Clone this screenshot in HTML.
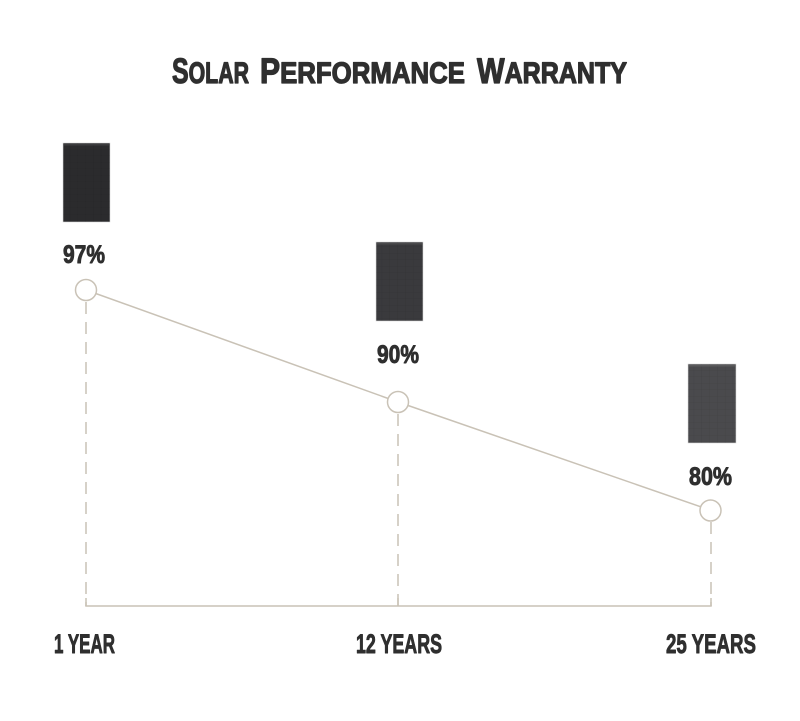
<!DOCTYPE html>
<html>
<head>
<meta charset="utf-8">
<style>
  html,body{margin:0;padding:0;background:#fff;}
  svg{display:block;}
  text{font-family:"Liberation Sans Narrow","Liberation Sans",sans-serif;font-weight:bold;fill:#2f2f2f;stroke:#2f2f2f;stroke-width:0.9;stroke-linejoin:round;}
</style>
</head>
<body>
<svg width="800" height="721" viewBox="0 0 800 721" xmlns="http://www.w3.org/2000/svg">
  <rect width="800" height="721" fill="#fff"/>

  <!-- Title -->
  <text x="172" y="83" textLength="77" lengthAdjust="spacingAndGlyphs" style="stroke-width:1.3"><tspan font-size="35">S</tspan><tspan font-size="30">OLAR</tspan></text>
  <text x="260" y="83" textLength="205" lengthAdjust="spacingAndGlyphs" style="stroke-width:1.3"><tspan font-size="35">P</tspan><tspan font-size="30">ERFORMANCE</tspan></text>
  <text x="477" y="83" textLength="150" lengthAdjust="spacingAndGlyphs" style="stroke-width:1.3"><tspan font-size="35">W</tspan><tspan font-size="30">ARRANTY</tspan></text>

  <defs>
    <pattern id="grid" width="7.8" height="6.5" patternUnits="userSpaceOnUse">
      <path d="M7.8 0 V6.5 M0 6.5 H7.8" stroke="#000" stroke-opacity="0.12" stroke-width="0.6" fill="none"/>
    </pattern>
  </defs>

  <!-- Panels -->
  <g>
    <rect x="63" y="143" width="47" height="79" fill="#2b2b2d" stroke="#d8d8d8" stroke-width="0.6"/>
    <rect x="63" y="143" width="47" height="79" fill="url(#grid)"/>
    <rect x="64" y="144" width="45" height="1.5" fill="#3c3c3e"/>
  </g>
  <g>
    <rect x="376" y="242" width="47" height="79" fill="#3a3a3d" stroke="#d8d8d8" stroke-width="0.6"/>
    <rect x="376" y="242" width="47" height="79" fill="url(#grid)"/>
    <rect x="377" y="243" width="45" height="1.5" fill="#4a4a4c"/>
  </g>
  <g>
    <rect x="688" y="364" width="48" height="79" fill="#4a4a4d" stroke="#d8d8d8" stroke-width="0.6"/>
    <rect x="688" y="364" width="48" height="79" fill="url(#grid)"/>
    <rect x="689" y="365" width="46" height="1.5" fill="#5a5a5c"/>
  </g>

  <!-- Percent labels -->
  <text x="63" y="263" font-size="25" textLength="42" lengthAdjust="spacingAndGlyphs">97%</text>
  <text x="377" y="363" font-size="25" textLength="42" lengthAdjust="spacingAndGlyphs">90%</text>
  <text x="689" y="485" font-size="25" textLength="43" lengthAdjust="spacingAndGlyphs">80%</text>

  <!-- Dashed verticals -->
  <g stroke="#c9c2b6" stroke-width="1.5" stroke-dasharray="12 8">
    <line x1="86" y1="302" x2="86" y2="606"/>
    <line x1="398" y1="414" x2="398" y2="606"/>
    <line x1="711" y1="522" x2="711" y2="606"/>
  </g>
  <!-- Axis -->
  <g stroke="#c9c2b6" stroke-width="1.5" fill="none">
    <line x1="85.25" y1="606" x2="711.75" y2="606"/>
    <line x1="86" y1="598" x2="86" y2="606"/>
    <line x1="398" y1="598" x2="398" y2="606"/>
    <line x1="711" y1="598" x2="711" y2="606"/>
  </g>

  <!-- Trend line -->
  <polyline points="86,290 398,402 710,510" fill="none" stroke="#c9c2b6" stroke-width="1.5"/>
  <g fill="#fff" stroke="#c9c2b6" stroke-width="1.5">
    <circle cx="86" cy="290" r="10.5"/>
    <circle cx="398" cy="402" r="10.5"/>
    <circle cx="710.5" cy="510.5" r="10.5"/>
  </g>

  <!-- Axis labels -->
  <text x="54" y="653" font-size="27" textLength="61" lengthAdjust="spacingAndGlyphs">1 YEAR</text>
  <text x="356" y="653" font-size="27" textLength="86" lengthAdjust="spacingAndGlyphs">12 YEARS</text>
  <text x="666" y="653" font-size="27" textLength="90" lengthAdjust="spacingAndGlyphs">25 YEARS</text>
</svg>
</body>
</html>
